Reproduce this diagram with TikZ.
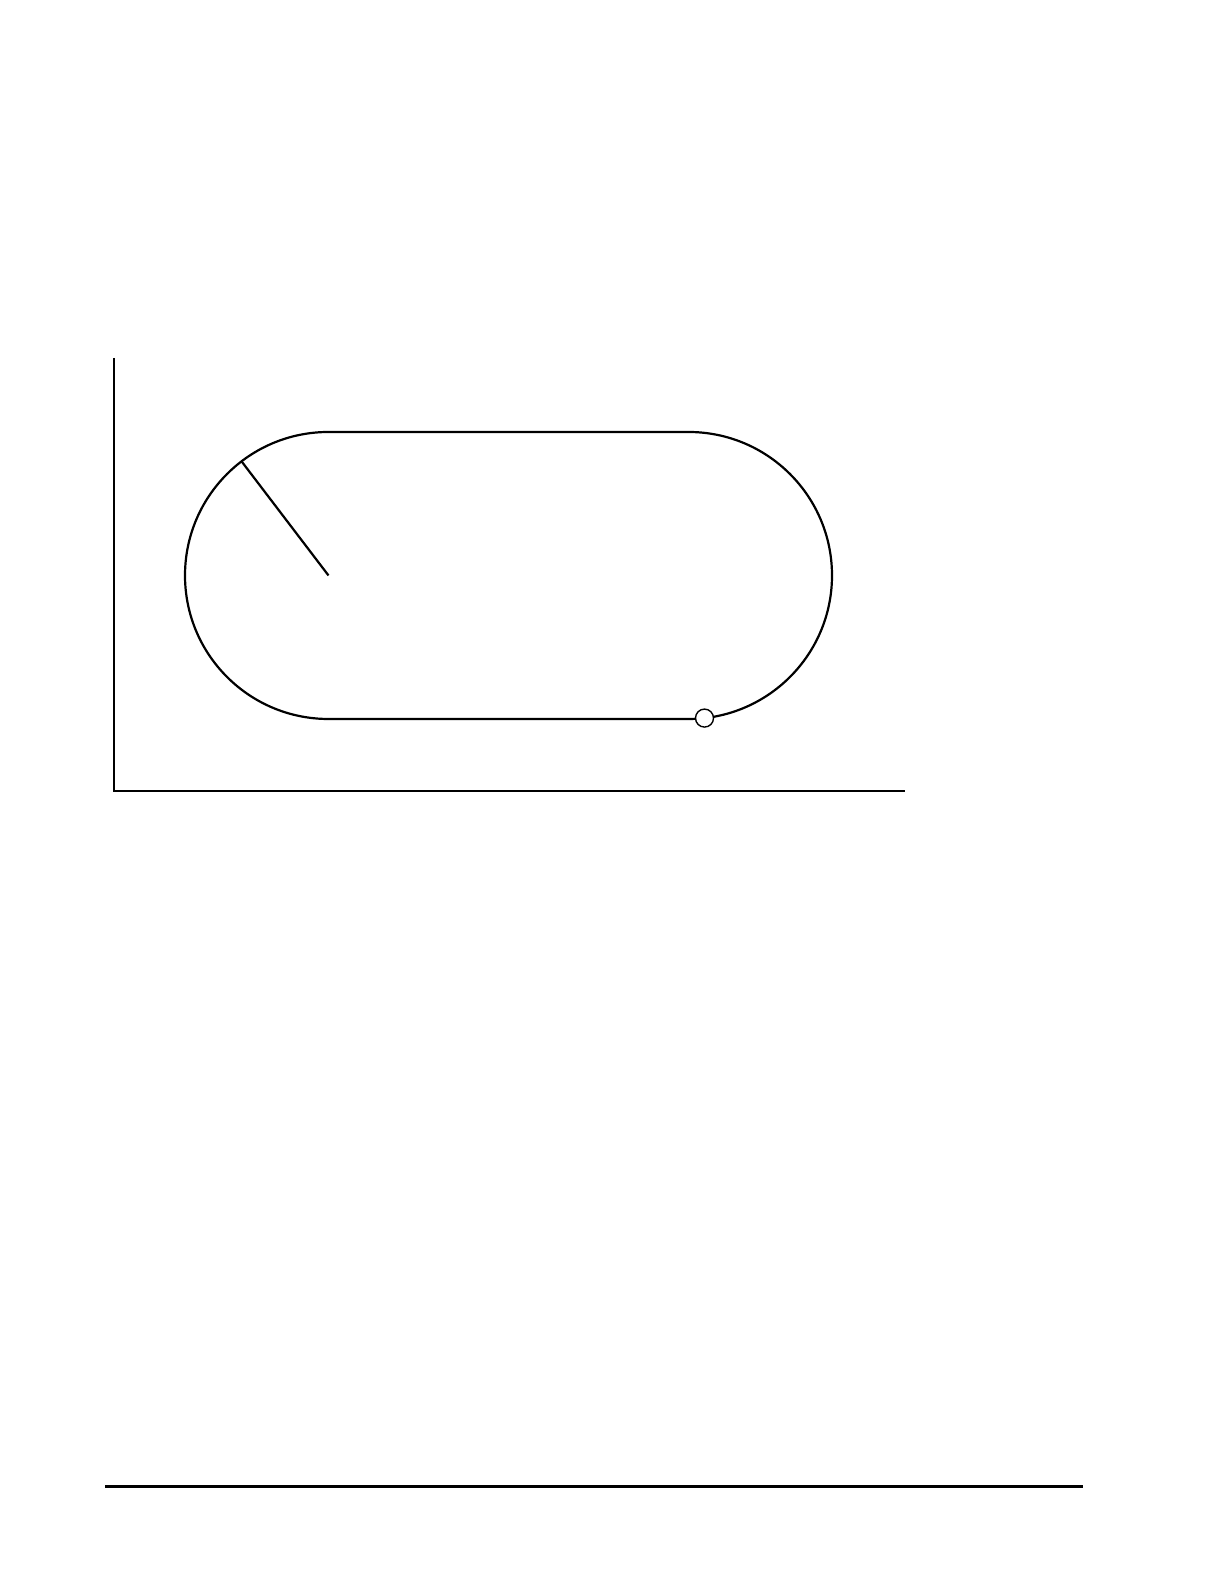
\documentclass[tikz,border=0pt]{standalone}
\usetikzlibrary{calc}
\begin{document}
\begin{tikzpicture}[x=1pt,y=1pt,
  axisline/.style={line width=2.6pt},
  trackline/.style={line width=2.2pt},
  ruleline/.style={line width=2.2pt},
  marker/.style={circle,draw,fill=white,line width=1.4pt,minimum size=18pt,inner sep=0pt}]
\useasboundingbox (0,0) rectangle (1224,1584);
% axes
\coordinate (O) at (114,793);
\coordinate (Ytop) at (114,1226);
\coordinate (Xend) at (905,793);
\draw[axisline] (Ytop) -- (O) -- (Xend);
% stadium
\coordinate (L) at (328.5,1008.5);
\coordinate (R) at (688.5,1008.5);
\draw[trackline] (328.5,1152) -- (688.5,1152) arc (90:-90:143.5) -- (328.5,865) arc (270:90:143.5) -- cycle;
% radius
\coordinate (P) at ($(L)+(127.3:143.5)$);
\draw[trackline] (L) -- (P);
% marker
\node[marker] (M) at ($(R)+(-83.6:143.5)$) {};
% bottom rule
\coordinate (B1) at (105,97.5);
\coordinate (B2) at (1083,97.5);
\draw[ruleline] (B1) -- (B2);
\end{tikzpicture}
\end{document}
